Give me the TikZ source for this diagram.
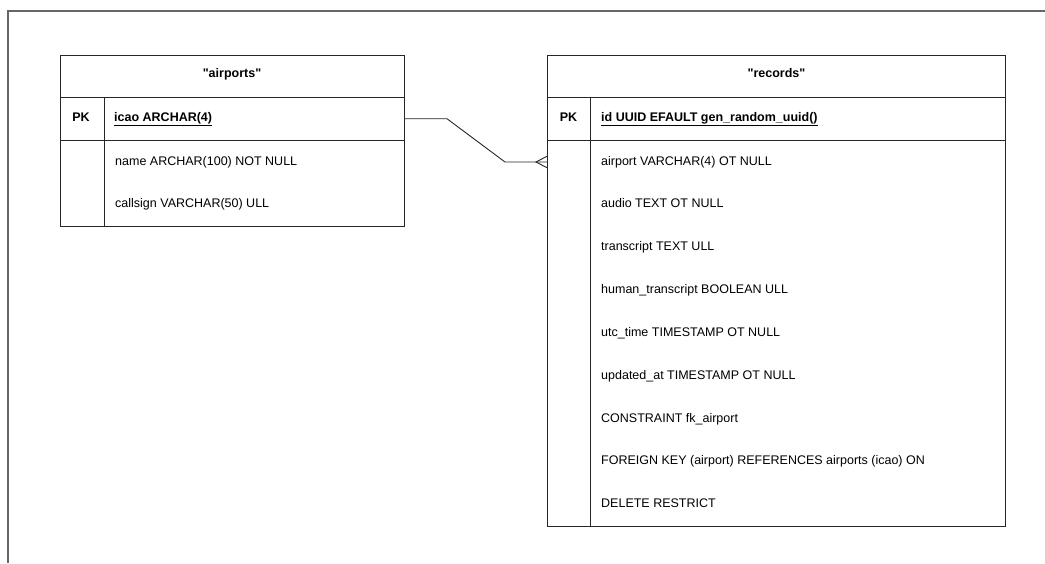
\documentclass[tikz,border=0pt]{standalone}
\usepackage{fontspec}
\setmainfont{Liberation Sans}[Ligatures=TeXOff]
\begin{document}
\fontsize{12.5pt}{15pt}\selectfont
\begin{tikzpicture}[x=1pt,y=-1pt,
  frame/.style={draw=black!60, line width=1.5pt},
  box/.style={draw=black!85, line width=0.9pt, anchor=north west, inner sep=0pt, outer sep=0pt},
  divider/.style={draw=black!85, line width=0.9pt},
  link/.style={draw=black!85, line width=0.9pt},
  title/.style={font=\bfseries, anchor=base, inner sep=0pt},
  keymark/.style={font=\bfseries, anchor=base, inner sep=0pt},
  keyfield/.style={font=\bfseries, anchor=base west, inner sep=0pt},
  field/.style={anchor=base west, inner sep=0pt},
]
\useasboundingbox (0,0) rectangle (1045,563);

% page frame
\draw[frame] (1045,11) -- (8,11) -- (8,563);

% table "airports"
\node[box, minimum width=344pt, minimum height=42.5pt] (aptHead) at (60,55) {};
\node[box, minimum width=344pt, minimum height=42.5pt] (aptKey) at (60,97.5) {};
\node[box, minimum width=344pt, minimum height=86pt] (aptBody) at (60,140) {};
\draw[divider] (104,97.5) -- (104,226);
\node[title] (aptTitle) at (232,77.5) {"airports"};
\node[keymark] (aptPK) at (81,121) {PK};
\node[keyfield] (aptIcao) at (114,121) {\underline{icao ARCHAR(4)}};
\node[field] (aptName) at (115,165.5) {name ARCHAR(100) NOT NULL};
\node[field] (aptCall) at (115,207.5) {callsign VARCHAR(50) ULL};

% table "records"
\node[box, minimum width=458pt, minimum height=42.5pt] (recHead) at (547.5,55) {};
\node[box, minimum width=458pt, minimum height=42.5pt] (recKey) at (547.5,97.5) {};
\node[box, minimum width=458pt, minimum height=386.5pt] (recBody) at (547.5,140) {};
\draw[divider] (590,97.5) -- (590,526.5);
\node[title] (recTitle) at (776.5,77.5) {"records"};
\node[keymark] (recPK) at (568.5,121) {PK};
\node[keyfield] (recId) at (601,121) {\underline{id UUID EFAULT gen\_random\_uuid()}};
\node[field] (recAirport) at (601,165) {airport VARCHAR(4) OT NULL};
\node[field] (recAudio) at (601,207.8) {audio TEXT OT NULL};
\node[field] (recTranscript) at (601,250.7) {transcript TEXT ULL};
\node[field] (recHuman) at (601,293.5) {human\_transcript BOOLEAN ULL};
\node[field] (recUtc) at (601,336.4) {utc\_time TIMESTAMP OT NULL};
\node[field] (recUpdated) at (601,379.2) {updated\_at TIMESTAMP OT NULL};
\node[field] (recConstraint) at (601,422) {CONSTRAINT fk\_airport};
\node[field] (recForeign) at (601,464.9) {FOREIGN KEY (airport) REFERENCES airports (icao) ON};
\node[field] (recDelete) at (601,507.7) {DELETE RESTRICT};

% relationship: one airport to many records
\coordinate (bendA) at (447,118.75);
\coordinate (bendB) at (505,162);
\coordinate (crowTip) at (536,162);
\coordinate (crowEnd) at (recBody.west |- 0,162);
\draw[link] (aptKey.east) -- (bendA) -- (bendB) -- (crowEnd);
\draw[link] (recBody.west |- 0,156) -- (crowTip) -- (recBody.west |- 0,168);
\end{tikzpicture}
\end{document}
